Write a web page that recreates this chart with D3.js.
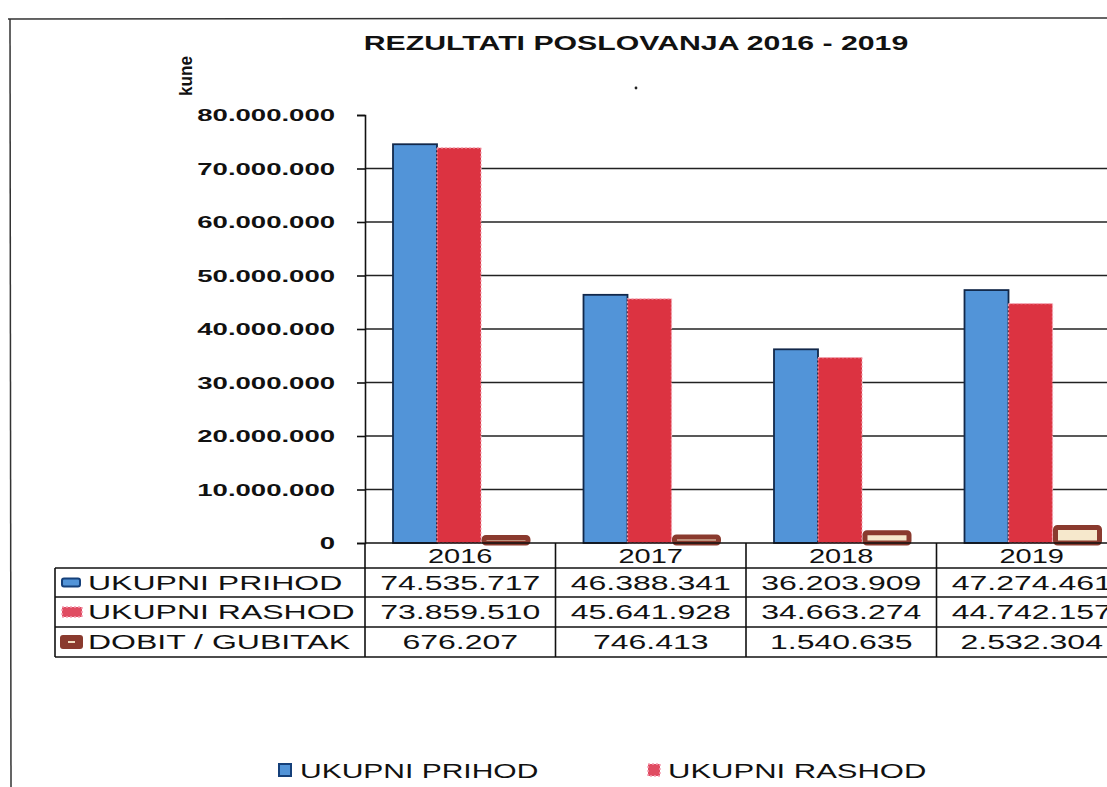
<!DOCTYPE html>
<html><head><meta charset="utf-8">
<script src="https://cdn.jsdelivr.net/npm/d3@7"></script>
<style>
body{margin:0;background:#fff;}
svg{display:block;font-family:"Liberation Sans",Arial,sans-serif;}
</style></head>
<body><svg id="c" width="1107" height="787"></svg>
<script>
const years = ["2016","2017","2018","2019"];
const prihod = [74535717, 46388341, 36203909, 47274461];
const rashod = [73859510, 45641928, 34663274, 44742157];
const dobit  = [676207, 746413, 1540635, 2532304];
const seriesNames = ["UKUPNI PRIHOD","UKUPNI RASHOD","DOBIT / GUBITAK"];
const yTicks = [0,10000000,20000000,30000000,40000000,50000000,60000000,70000000,80000000];
const titleText = "REZULTATI POSLOVANJA 2016 - 2019";
const yLabel = "kune";

const loc = d3.formatLocale({decimal:",",thousands:".",grouping:[3],currency:["",""]});
const fmt = loc.format(",d");

const svg = d3.select("#c");
const x = d3.scaleBand().domain(years).range([365, 365 + 4*190.5]).padding(0);
const inner = d3.scaleBand().domain(seriesNames).range([28, 160]).padding(0);
const y = d3.scaleLinear().domain([0, 80000000]).range([543, 115]);

function stretch(sel, k){
  sel.each(function(){
    const w = this.getComputedTextLength();
    this.setAttribute("textLength", w*k);
    this.setAttribute("lengthAdjust","spacingAndGlyphs");
  });
}

// frame
svg.append("line").attr("x1",8).attr("x2",1107).attr("y1",19).attr("y2",18).attr("stroke","#333").attr("stroke-width",1.5);
svg.append("line").attr("x1",10).attr("x2",11).attr("y1",19).attr("y2",787).attr("stroke","#333").attr("stroke-width",1.5);

// title
svg.append("text").attr("x",636).attr("y",50).attr("text-anchor","middle")
  .attr("font-size",21).attr("font-weight","bold").attr("fill","#111").text(titleText)
  .call(stretch,1.44);
svg.append("circle").attr("cx",636).attr("cy",88).attr("r",1.4).attr("fill","#222");

// y label
svg.append("text").attr("transform","translate(192,76) rotate(-90)").attr("text-anchor","middle")
  .attr("font-size",18).attr("font-weight","bold").attr("fill","#111").text(yLabel)
  .call(stretch,0.95);

// gridlines
svg.append("g").selectAll("line").data(yTicks.filter(d=>d>0 && d<80000000)).join("line")
  .attr("x1",365).attr("x2",1107).attr("y1",d=>y(d)).attr("y2",d=>y(d))
  .attr("stroke","#222").attr("stroke-width",1.4);

// y axis
const ya = svg.append("g").attr("transform","translate(365,0)")
  .call(d3.axisLeft(y).tickValues(yTicks).tickFormat(fmt).tickSize(8).tickPadding(22));
ya.select(".domain").attr("stroke","#111").attr("stroke-width",1.6);
ya.selectAll(".tick line").attr("stroke","#111").attr("stroke-width",1.6);
ya.selectAll(".tick text").attr("font-size",16).attr("font-weight","bold")
  .attr("font-family","Liberation Sans, Arial, sans-serif").attr("fill","#111").attr("dy","0.36em")
  .call(stretch,1.72);

// bars
const bars = svg.append("g");
bars.selectAll("rect.p").data(prihod).join("rect").attr("class","p")
  .attr("x",(d,i)=>x(years[i])+inner(seriesNames[0])).attr("width",inner.bandwidth())
  .attr("y",d=>y(d)).attr("height",d=>y(0)-y(d))
  .attr("fill","#5294d8").attr("stroke","#12284a").attr("stroke-width",1.8);
bars.selectAll("rect.r").data(rashod).join("rect").attr("class","r")
  .attr("x",(d,i)=>x(years[i])+inner(seriesNames[1])).attr("width",inner.bandwidth())
  .attr("y",d=>y(d)).attr("height",d=>y(0)-y(d))
  .attr("fill","#dc3341").attr("stroke","#f3a3b3").attr("stroke-width",1.3).attr("stroke-dasharray","2,2");
bars.selectAll("rect.d").data(dobit).join("rect").attr("class","d")
  .attr("x",(d,i)=>x(years[i])+inner(seriesNames[2])+3).attr("width",inner.bandwidth())
  .attr("y",d=>y(d)-2).attr("height",d=>y(0)-y(d)+2)
  .attr("rx",2)
  .attr("fill","#f6e8cc").attr("stroke","#8a3a2e").attr("stroke-width",5);

// data table
const rowY = [543, 568, 597, 627, 657];
const tbl = svg.append("g").attr("stroke","#111").attr("stroke-width",1.6);
tbl.append("line").attr("x1",365).attr("x2",1107).attr("y1",rowY[0]).attr("y2",rowY[0]);
tbl.selectAll("line.h").data(rowY.slice(1)).join("line").attr("class","h")
  .attr("x1",55).attr("x2",1107).attr("y1",d=>d).attr("y2",d=>d);
tbl.append("line").attr("x1",55).attr("x2",55).attr("y1",rowY[1]).attr("y2",rowY[4]);
tbl.selectAll("line.v").data(years).join("line").attr("class","v")
  .attr("x1",d=>x(d)).attr("x2",d=>x(d)).attr("y1",rowY[0]).attr("y2",rowY[4]);

svg.append("g").selectAll("text").data(years).join("text")
  .attr("x",d=>x(d)+x.bandwidth()/2).attr("y",(rowY[0]+rowY[1])/2+7)
  .attr("text-anchor","middle").attr("font-size",20).attr("fill","#111").text(d=>d)
  .call(stretch,1.45);

const rows = [prihod, rashod, dobit];
rows.forEach((vals,ri)=>{
  const cy = (rowY[ri+1]+rowY[ri+2])/2;
  svg.append("g").selectAll("text").data(vals).join("text")
    .attr("x",(d,i)=>x(years[i])+x.bandwidth()/2).attr("y",cy+7)
    .attr("text-anchor","middle").attr("font-size",20).attr("fill","#111").text(d=>fmt(d))
    .call(stretch,1.6);
  svg.append("text").attr("x",88).attr("y",cy+7).attr("font-size",20).attr("fill","#111")
    .text(seriesNames[ri]).call(stretch,1.6);
});

// table legend keys
const k1y = (rowY[1]+rowY[2])/2, k2y=(rowY[2]+rowY[3])/2, k3y=(rowY[3]+rowY[4])/2;
svg.append("rect").attr("x",62).attr("y",k1y-4).attr("width",18).attr("height",8).attr("rx",2)
  .attr("fill","#5294d8").attr("stroke","#15407a").attr("stroke-width",2);
svg.append("rect").attr("x",62).attr("y",k2y-5).attr("width",20).attr("height",10)
  .attr("fill","#e04c62").attr("stroke","#f5a0b4").attr("stroke-width",1.5).attr("stroke-dasharray","2,2");
svg.append("rect").attr("x",60).attr("y",k3y-7).attr("width",23).attr("height",14).attr("rx",3)
  .attr("fill","#8a3a2e");
svg.append("rect").attr("x",68).attr("y",k3y-1).attr("width",7).attr("height",2).attr("fill","#f0dcc0");

// bottom legend
svg.append("rect").attr("x",279).attr("y",764).attr("width",12).attr("height",12)
  .attr("fill","#5294d8").attr("stroke","#15407a").attr("stroke-width",2);
svg.append("text").attr("x",300).attr("y",778).attr("font-size",20).attr("fill","#111")
  .text(seriesNames[0]).call(stretch,1.5);
svg.append("rect").attr("x",648).attr("y",764).attr("width",12).attr("height",12)
  .attr("fill","#e04c62").attr("stroke","#f5a0b4").attr("stroke-width",1.5).attr("stroke-dasharray","2,2");
svg.append("text").attr("x",668).attr("y",778).attr("font-size",20).attr("fill","#111")
  .text(seriesNames[1]).call(stretch,1.55);
</script></body></html>
